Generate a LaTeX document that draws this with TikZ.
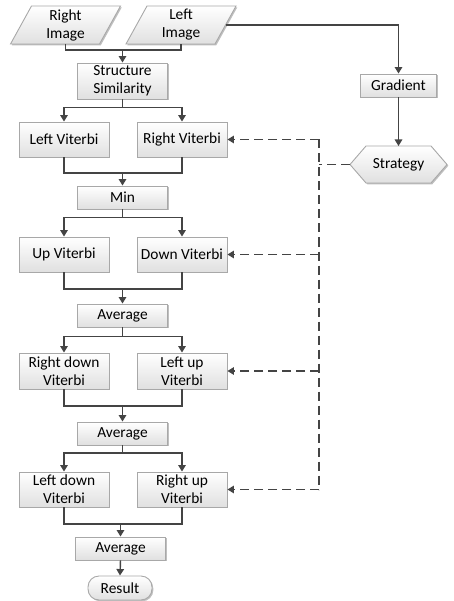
\documentclass[tikz,border=0pt]{standalone}
\usepackage{fontspec}
\setmainfont{Carlito}
\usetikzlibrary{arrows.meta,shapes.geometric,shadows,calc}
\definecolor{lncol}{HTML}{444444}
\definecolor{bdcol}{HTML}{A8A8A8}
\definecolor{fbcol}{HTML}{E0E0E0}
\begin{document}
\begin{tikzpicture}[x=1pt,y=-1pt,
  every node/.style={font=\fontsize{15.4}{18}\selectfont, align=center, inner sep=0pt},
  shadedfill/.style={draw=bdcol, line width=0.9pt, top color=white, bottom color=fbcol,
    drop shadow={shadow xshift=1.3pt, shadow yshift=-1.3pt, opacity=0.25, fill=black}},
  box/.style={shadedfill, rectangle, minimum width=90pt, minimum height=35pt},
  sbox/.style={box, minimum width=90pt, minimum height=23pt},
  ln/.style={draw=lncol, line width=1.45pt},
  arr/.style={ln, -{Triangle[length=6.5pt,width=7.5pt]}},
  dl/.style={ln, dash pattern=on 9pt off 5pt},
  dsh/.style={dl, -{Triangle[length=6.5pt,width=7.5pt]}}]
\useasboundingbox (0,0) rectangle (454,601);

% input parallelograms
\coordinate (ric) at (65.5,25);
\coordinate (lic) at (181,25);
\draw[shadedfill] ($(ric)+(-55,19)$) -- ++(89,0) -- ++(21,-38) -- ++(-89,0) -- cycle;
\draw[shadedfill] ($(lic)+(-55,19)$) -- ++(89,0) -- ++(21,-38) -- ++(-89,0) -- cycle;
\node (ri) at (ric) {Right\\Image};
\node (li) at (lic) {Left\\Image};
\coordinate (rib) at ($(ric)+(0,19)$);
\coordinate (lib) at ($(lic)+(0,19)$);
\coordinate (lie) at ($(lic)+(44.5,0)$);

% main column
\node[box, minimum height=36pt] (ss) at (122.5,81) {Structure\\Similarity};
\node[box] (lv) at (64,139.5) {Left Viterbi};
\node[box] (rv) at (182,139.5) {Right Viterbi};
\node[sbox] (mn) at (122.5,197.5) {Min};
\node[box] (uv) at (64,254.5) {Up Viterbi};
\node[box] (dv) at (182,254.5) {Down Viterbi};
\node[sbox] (av1) at (122.5,315.5) {Average};
\node[box, minimum height=36pt] (rdv) at (64,371) {Right down\\Viterbi};
\node[box, minimum height=36pt] (luv) at (182,371) {Left up\\Viterbi};
\node[sbox] (av2) at (122.5,433.5) {Average};
\node[box] (ldv) at (64,489.5) {Left down\\Viterbi};
\node[box] (ruv) at (182,489.5) {Right up\\Viterbi};
\node[sbox] (av3) at (120.5,548.5) {Average};
\node[shadedfill, rectangle, rounded corners=11pt, minimum width=64pt, minimum height=24pt] (res) at (120,588) {Result};

% right column
\node[sbox, minimum width=76pt] (gr) at (398.5,85.5) {Gradient};
\coordinate (stc) at (398.5,164.5);
\draw[shadedfill] ($(stc)+(-48.5,0)$) -- ($(stc)+(-32.5,-18.5)$) -- ($(stc)+(32.5,-18.5)$)
  -- ($(stc)+(48.5,0)$) -- ($(stc)+(32.5,18.5)$) -- ($(stc)+(-32.5,18.5)$) -- cycle;
\node (st) at (stc) {Strategy};
\coordinate (stt) at ($(stc)+(0,-18.5)$);
\coordinate (stw) at ($(stc)+(-48.5,0)$);

% connectors: inputs
\draw[ln] (rib) |- (ss.north |- 0,50) -| (lib);
\draw[arr] (ss.north |- 0,50) -- (ss.north);
\draw[arr] (lie) -| (gr.north);
\draw[arr] (gr.south) -- (stt);

% splits and merges
\draw[arr] (ss.south) -- ++(0,8) -| (lv.north);
\draw[arr] (ss.south) -- ++(0,8) -| (rv.north);
\draw[ln] (lv.south) |- (mn.north |- 0,173) -| (rv.south);
\draw[arr] (mn.north |- 0,173) -- (mn.north);

\draw[arr] (mn.south) -- ++(0,8) -| (uv.north);
\draw[arr] (mn.south) -- ++(0,8) -| (dv.north);
\draw[ln] (uv.south) |- (av1.north |- 0,289) -| (dv.south);
\draw[arr] (av1.north |- 0,289) -- (av1.north);

\draw[arr] (av1.south) -- ++(0,9) -| (rdv.north);
\draw[arr] (av1.south) -- ++(0,9) -| (luv.north);
\draw[ln] (rdv.south) |- (av2.north |- 0,406) -| (luv.south);
\draw[arr] (av2.north |- 0,406) -- (av2.north);

\draw[arr] (av2.south) -- ++(0,7.5) -| (ldv.north);
\draw[arr] (av2.south) -- ++(0,7.5) -| (ruv.north);
\draw[ln] (ldv.south) |- (av3.north |- 0,524) -| (ruv.south);
\draw[arr] (av3.north |- 0,524) -- (av3.north);
\draw[arr] (av3.south) -- (res.north);

% dashed strategy feedback
\coordinate (vx) at (319,0);
\draw[dl] (stw) -- (stw -| vx);
\draw[dl] (rv.east -| vx) -- (ruv.east -| vx);
\draw[dsh] (rv.east -| vx) -- (rv.east);
\draw[dsh] (dv.east -| vx) -- (dv.east);
\draw[dsh] (luv.east -| vx) -- (luv.east);
\draw[dsh] (ruv.east -| vx) -- (ruv.east);
\end{tikzpicture}
\end{document}
